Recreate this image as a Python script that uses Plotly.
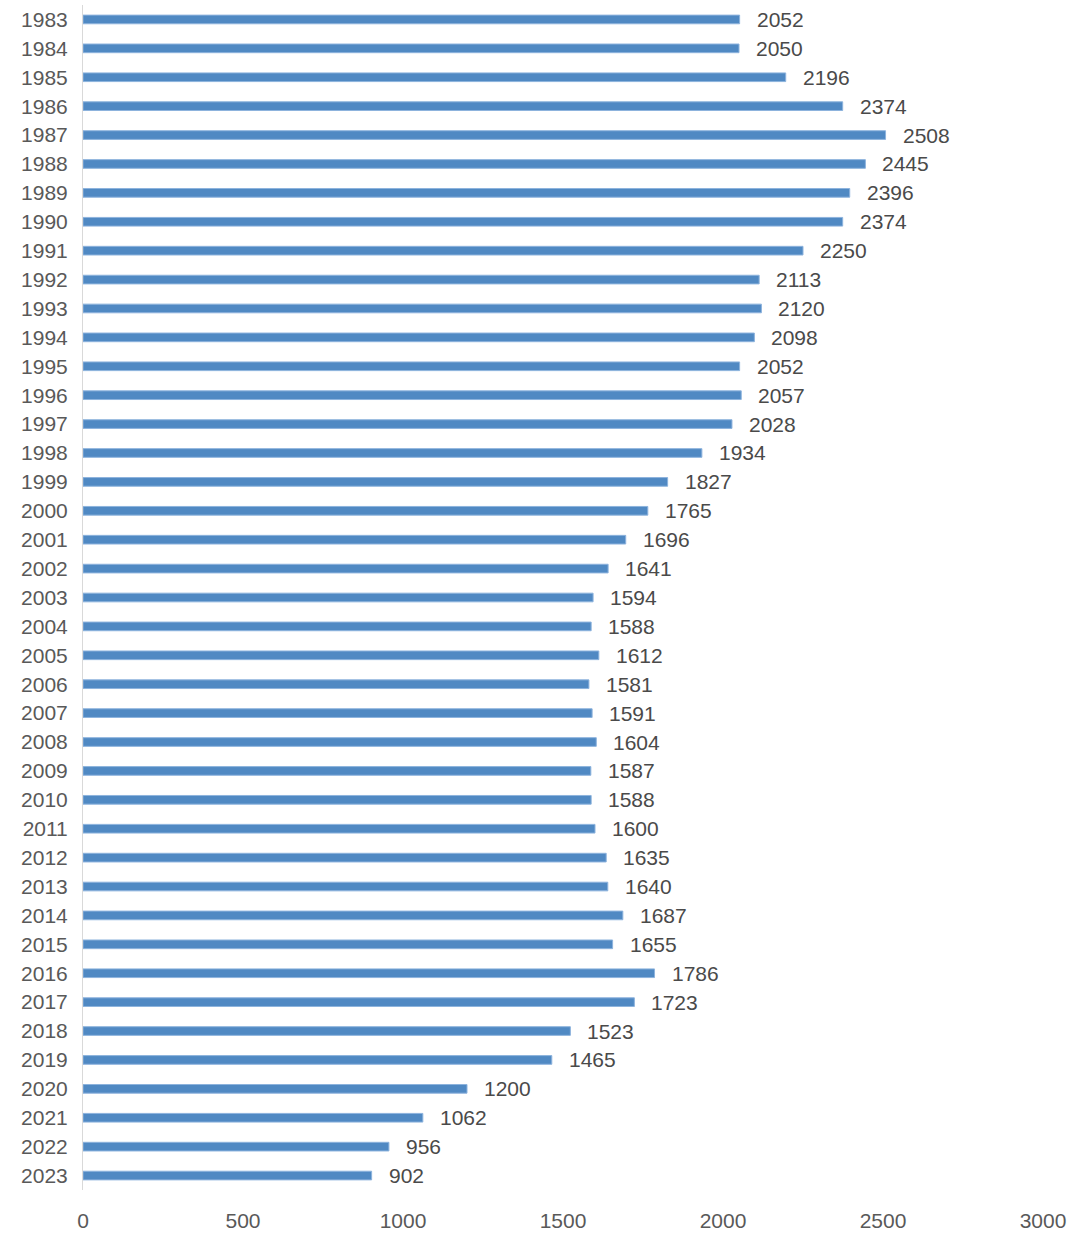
import plotly.graph_objects as go

years = list(range(1983, 2024))
values = [2052, 2050, 2196, 2374, 2508, 2445, 2396, 2374, 2250, 2113,
          2120, 2098, 2052, 2057, 2028, 1934, 1827, 1765, 1696, 1641,
          1594, 1588, 1612, 1581, 1591, 1604, 1587, 1588, 1600, 1635,
          1640, 1687, 1655, 1786, 1723, 1523, 1465, 1200, 1062, 956, 902]
x_ticks = [0, 500, 1000, 1500, 2000, 2500, 3000]

FONT = "Liberation Sans"

fig = go.Figure()
fig.add_trace(go.Bar(
    y=years, x=values, orientation="h", width=0.3,
    marker=dict(color="#5089C3", line=dict(color="#8DB3DD", width=1)),
    hoverinfo="x+y",
))

annotations = [
    dict(x=v, y=yr, text=str(v), xref="x", yref="y", showarrow=False,
         xanchor="left", yanchor="middle", xshift=15,
         font=dict(family=FONT, size=21, color="#4A4A4A"))
    for yr, v in zip(years, values)
]

fig.update_layout(
    width=1080, height=1249,
    margin=dict(l=83, r=37, t=5, b=59),
    paper_bgcolor="white", plot_bgcolor="white",
    showlegend=False,
    annotations=annotations,
    xaxis=dict(range=[0, 3000], tickvals=x_ticks, ticktext=[str(t) for t in x_ticks],
               showgrid=False, zeroline=False, showline=False,
               ticks="", ticklabelstandoff=16,
               tickfont=dict(family=FONT, size=21, color="#595959")),
    yaxis=dict(type="linear", range=[years[-1] + 0.5, years[0] - 0.5],
               tickvals=years, ticktext=[str(y) for y in years],
               showgrid=False, zeroline=False, showline=True, linecolor="#D9D9D9",
               linewidth=1, ticks="", ticklabelstandoff=10,
               tickfont=dict(family=FONT, size=21, color="#595959")),
)

fig.write_html("out.html")
